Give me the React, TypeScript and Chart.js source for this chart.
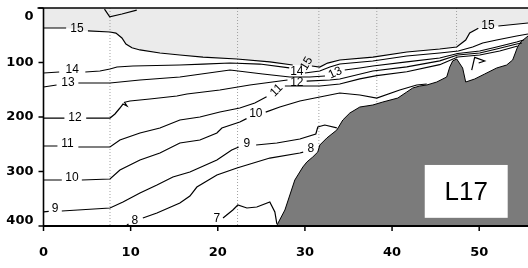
import { useEffect, useRef } from "react";
import { Chart, registerables } from "chart.js";

Chart.register(...registerables);

type P = [number, number];

const xTicks = [0, 10, 20, 30, 40, 50];
const depthTicks = [0, 100, 200, 300, 400];
const stations = [7.63, 22.27, 31.6, 38.25, 47.4];

const bathymetry: P[] = [
  [26.74, 400], [27.7, 370.7], [28.84, 315.6], [29.76, 291.8], [30.22, 282.6], [30.9, 273.4],
  [31.48, 264.2], [31.71, 251.4], [32.51, 238.6], [33.66, 223.9], [34.35, 205.5], [35.15, 192.7],
  [36.3, 181.7], [37.79, 178], [38.94, 172.5], [40.66, 165.2], [41.69, 154.1], [42.37, 146.8],
  [43.18, 143.1], [43.98, 141.3], [45.13, 135.8], [46.27, 126.6], [46.62, 108.3], [46.96, 97],
  [47.42, 93.6], [48.1, 110.1], [48.45, 135.8], [49.48, 130.3], [50.63, 121.1], [52.0, 110.1],
  [53.15, 104.6], [53.84, 95.4], [54.4, 71.6], [54.76, 62.4], [55.6, 51.4],
];

const contour16: P[][] = [[[7.0, 2], [7.6, 16], [9.0, 11], [10.7, 4]]];

const contour15: P[][] = [
  [[0, 36.7], [2.6, 36.7]],
  [[5.1, 42], [7.63, 44], [8.31, 46], [9.0, 55], [9.46, 66], [10.15, 73], [11.07, 77], [13.36, 82.6],
   [15.65, 86.2], [18.3, 90], [22.2, 93.6], [25.97, 99], [28.6, 104.6]],
  [[30.8, 106.4], [31.7, 108.3], [32.6, 101], [34.0, 95.4], [37.8, 90], [41.7, 80.7], [45.47, 75.2],
   [47.42, 71.6], [48.45, 58.7], [48.91, 45.9], [49.9, 37]],
  [[52.2, 33], [55.6, 27.5]],
];

const contour14: P[][] = [
  [[0, 119.3], [1.8, 117.4]],
  [[4.8, 117.4], [6.48, 115.6], [7.63, 111.9], [8.43, 108.3], [10.26, 106.4], [15.65, 104.6],
   [18.3, 102.8], [21.4, 100.9], [24.83, 102.8], [28.2, 110]],
  [[30.0, 119.3], [31.7, 115.6], [32.86, 108.3], [34.0, 102.8], [37.79, 97.3], [41.69, 88.1],
   [45.47, 82.6], [47.6, 78.9], [49.25, 71.6], [50.4, 64.2], [52.0, 58.7], [54.3, 51.4], [55.6, 47.7]],
];

const contour13: P[][] = [
  [[0, 145], [1.5, 141.3]],
  [[4.0, 137.6], [7.63, 137.6], [11.07, 132.1], [15.65, 126.6], [21.4, 113.8], [25.17, 121.1],
   [28.27, 126.6], [30.56, 126.6], [32.3, 124.8]],
  [[34.57, 113.8], [36.3, 110.1], [37.79, 106.4], [41.69, 99], [45.47, 91.8], [47.53, 83.5],
   [50.06, 78.9], [52.0, 71.6], [54.3, 62.4], [55.1, 58.7]],
];

const contour12: P[][] = [
  [[0, 201.9], [2.4, 201.9]],
  [[4.9, 201.9], [7.63, 201.9], [8.2, 194.5], [8.77, 183.5], [9.12, 176.2], [9.58, 179.8], [9.3, 173],
   [9.92, 170.6], [12.21, 167], [15.31, 161.5], [16.46, 157.8], [20.24, 150.5], [23.68, 141.3], [28.0, 132.1]],
  [[30.2, 134], [32.86, 132.1], [34.0, 130.3], [37.79, 115.6], [41.69, 108], [45.47, 97],
   [47.53, 86.2], [50.06, 82.6], [52.0, 75.2], [54.3, 66], [54.9, 64.2]],
];

const contour11: P[][] = [
  [[0, 253.2], [1.6, 253.2]],
  [[4.0, 255], [7.63, 255], [8.77, 242.2], [11.07, 229.4], [13.36, 220.2], [15.65, 205.5], [17.95, 200],
   [20.24, 190.8], [22.53, 183.5], [24.25, 174.3], [25.6, 163]],
  [[27.7, 143.1], [31.71, 143.1], [34.0, 139.5], [36.3, 130], [38.24, 124], [41.69, 117], [45.47, 104],
   [47.53, 89.9], [50.06, 86.2], [52.35, 78.9], [54.42, 69.7]],
  [[49.14, 113.8], [49.48, 90.5], [50.63, 97.3], [49.94, 100.9]],
];

const contour10: P[][] = [
  [[0, 315.6], [2.1, 315.6]],
  [[4.4, 315.6], [7.63, 313.8], [8.77, 297.3], [11.07, 278.9], [13.36, 266.1], [15.65, 247.7],
   [17.95, 242.2], [19.9, 229.4], [20.47, 220.2], [22.53, 209.2], [23.3, 203]],
  [[25.5, 191], [27.12, 181.7], [29.42, 170.6], [31.71, 163.3], [34.0, 156], [36.3, 159.6],
   [38.24, 165.2], [40.88, 150.5], [42.83, 141.3], [43.98, 139.5]],
];

const contour9: P[][] = [
  [[0, 374], [0.6, 373]],
  [[2.1, 372.5], [7.63, 367], [9.12, 356], [11.07, 339.5], [13.02, 324.8], [14.85, 310.1], [16.8, 301],
   [19.9, 278.9], [21.6, 260.6], [22.4, 255]],
  [[24.4, 251.4], [26.78, 247.7], [29.42, 240.4], [31.25, 231.2], [31.48, 218.4], [32.28, 214.7], [33.66, 220]],
];

const contour8: P[][] = [
  [[9.5, 400], [9.75, 396]],
  [[11.4, 385.4], [13.02, 376.2], [15.65, 357.8], [16.8, 345], [17.6, 328.5], [19.9, 306.5],
   [22.2, 293.6], [25.97, 275.3], [29.42, 266.1], [29.8, 264.5]],
];

const contour7: P[][] = [
  [[20.6, 385.4], [21.73, 370.7], [22.3, 361.5], [23.34, 367], [24.48, 365.2], [25.97, 356],
   [26.55, 374.3], [26.78, 396]],
];

const contours = [contour16, contour15, contour14, contour13, contour12, contour11, contour10, contour9, contour8, contour7];

// [text, x, depth, rotation in degrees]
const contourLabels: [string, number, number, number][] = [
  ["15", 3.84, 36.7, 0], ["15", 30.1, 101, -60], ["15", 51.0, 31.2, 0],
  ["14", 3.3, 112, 0], ["14", 29.07, 115.6, 0],
  ["13", 2.81, 136, 0], ["13", 33.43, 117.4, -25],
  ["12", 3.61, 200, 0], ["12", 29.07, 135.8, 0],
  ["11", 2.75, 247.7, 0], ["11", 26.66, 150, -45],
  ["10", 3.27, 309.5, 0], ["10", 24.37, 192.7, 0],
  ["9", 1.32, 367, 0], ["9", 23.34, 247.7, 0],
  ["8", 10.49, 389, 0], ["8", 30.68, 257, 0],
  ["7", 19.9, 385, 0],
];

const panelTitle = "L17";

const toPts = (seg: P[]) => seg.map(([x, y]) => ({ x, y }));

export default function App() {
  const ref = useRef<HTMLCanvasElement | null>(null);

  useEffect(() => {
    if (!ref.current) return;

    const datasets: any[] = [];
    datasets.push({
      data: toPts(contour15.flat()),
      fill: { value: 0 },
      backgroundColor: "#ebebeb",
      borderWidth: 0,
      pointRadius: 0,
      order: 10,
    });
    stations.forEach((x) =>
      datasets.push({
        data: [{ x, y: 0 }, { x, y: 400 }],
        borderColor: "#a0a0a0",
        borderWidth: 1,
        borderDash: [1, 2],
        pointRadius: 0,
        fill: false,
        order: 9,
      })
    );
    datasets.push({
      data: toPts(bathymetry),
      fill: { value: 400 },
      backgroundColor: "#7b7b7b",
      borderColor: "#000",
      borderWidth: 1,
      pointRadius: 0,
      order: 8,
    });
    contours.forEach((c) => {
      const data: any[] = [];
      c.forEach((seg, i) => {
        if (i > 0) data.push({ x: seg[0][0], y: null });
        data.push(...toPts(seg));
      });
      datasets.push({
        data,
        borderColor: "#000",
        borderWidth: 1.2,
        pointRadius: 0,
        fill: false,
        spanGaps: false,
        order: 1,
      });
    });

    const frame = {
      id: "frame",
      afterDatasetsDraw(chart: any) {
        const { ctx, chartArea, scales } = chart;
        const xs = scales.x;
        const ys = scales.y;
        const L = chartArea.left, R = chartArea.right, T = chartArea.top, B = chartArea.bottom;
        ctx.save();
        ctx.strokeStyle = "#000";
        ctx.fillStyle = "#000";
        ctx.lineWidth = 1.6;
        ctx.beginPath();
        ctx.moveTo(L - 6, T);
        ctx.lineTo(R, T);
        ctx.stroke();
        ctx.beginPath();
        ctx.moveTo(L, T);
        ctx.lineTo(L, B);
        ctx.stroke();
        ctx.lineWidth = 2;
        ctx.beginPath();
        ctx.moveTo(L, B);
        ctx.lineTo(R, B);
        ctx.stroke();
        ctx.lineWidth = 1.5;
        ctx.font = "bold 13px 'DejaVu Sans', sans-serif";
        ctx.textBaseline = "middle";
        ctx.textAlign = "right";
        depthTicks.forEach((d) => {
          const py = ys.getPixelForValue(d);
          ctx.beginPath();
          ctx.moveTo(L - 5, py);
          ctx.lineTo(L, py);
          ctx.stroke();
          const ly = Math.min(Math.max(py, 17), 221);
          ctx.fillText(String(d), L - 10, ly);
        });
        ctx.textAlign = "center";
        xTicks.forEach((v) => {
          const px = xs.getPixelForValue(v);
          ctx.beginPath();
          ctx.moveTo(px, B);
          ctx.lineTo(px, B + 5);
          ctx.stroke();
          ctx.fillText(String(v), px, B + 27);
        });
        ctx.font = "12px 'Liberation Sans', Arial, sans-serif";
        contourLabels.forEach(([t, x, d, rot]) => {
          ctx.save();
          ctx.translate(xs.getPixelForValue(x), ys.getPixelForValue(d));
          ctx.rotate((rot * Math.PI) / 180);
          ctx.fillText(t, 0, 1);
          ctx.restore();
        });
        const bx0 = xs.getPixelForValue(43.75), bx1 = xs.getPixelForValue(53.27);
        const by0 = ys.getPixelForValue(288), by1 = ys.getPixelForValue(385);
        ctx.fillStyle = "#fff";
        ctx.fillRect(bx0, by0, bx1 - bx0, by1 - by0);
        ctx.fillStyle = "#000";
        ctx.font = "26px 'Liberation Sans', Arial, sans-serif";
        ctx.fillText(panelTitle, (bx0 + bx1) / 2, (by0 + by1) / 2 + 1);
        ctx.restore();
      },
    };

    const chart = new Chart(ref.current, {
      type: "line",
      data: { datasets },
      options: {
        animation: false,
        responsive: true,
        maintainAspectRatio: false,
        layout: { padding: { left: 43.5, right: 0, top: 8, bottom: 42 } },
        plugins: { legend: { display: false }, tooltip: { enabled: false } },
        elements: { line: { tension: 0 } },
        scales: {
          x: { type: "linear", min: 0, max: 55.6, display: false },
          y: { type: "linear", min: 0, max: 400, reverse: true, display: false },
        },
      },
      plugins: [frame],
    });
    return () => chart.destroy();
  }, []);

  return (
    <div style={{ position: "fixed", left: 0, top: 0, width: 528, height: 268, background: "#fff" }}>
      <canvas ref={ref} />
    </div>
  );
}
